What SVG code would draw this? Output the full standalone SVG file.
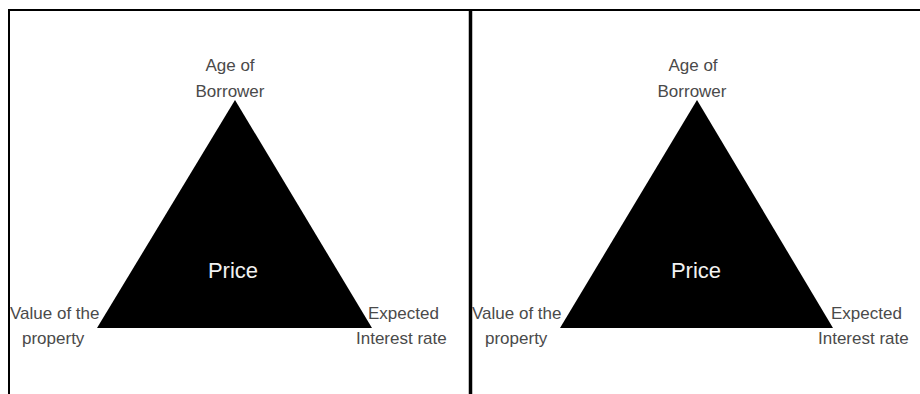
<svg xmlns="http://www.w3.org/2000/svg" width="920" height="394" viewBox="0 0 920 394">
<style>
.frame{stroke:#000;fill:none}
.tri{fill:#000}
.lbl{font-family:"Liberation Sans",Arial,sans-serif;font-size:17px;fill:#4a4a4a}
.mid{text-anchor:middle}
.price{font-family:"Liberation Sans",Arial,sans-serif;font-size:22px;fill:#f2f2f2;text-anchor:middle}
</style>
<rect width="920" height="394" fill="#fff"/>
<g id="frame">
<line class="frame" x1="8" y1="10" x2="920" y2="10" stroke-width="2"/>
<line class="frame" x1="9" y1="9" x2="9" y2="394" stroke-width="2"/>
<line class="frame" x1="470.5" y1="9" x2="470.5" y2="394" stroke-width="3.5"/>
</g>
<g id="left-panel">
<g id="left-triangle"><polygon class="tri" points="235,100 97,328 372,328"/>
<text class="price" x="233" y="278">Price</text></g>
<g id="left-age"><text class="lbl mid" x="230" y="71">Age of</text><text class="lbl mid" x="230" y="97">Borrower</text></g>
<g id="left-value"><text class="lbl" x="10" y="319">Value of the</text><text class="lbl" x="22" y="344">property</text></g>
<g id="left-rate"><text class="lbl" x="368" y="319">Expected</text><text class="lbl" x="356" y="344">Interest rate</text></g>
</g>
<g id="right-panel">
<g id="right-triangle"><polygon class="tri" points="697,100 560,328 833,328"/>
<text class="price" x="696" y="278">Price</text></g>
<g id="right-age"><text class="lbl mid" x="693" y="71">Age of</text><text class="lbl mid" x="692" y="97">Borrower</text></g>
<g id="right-value"><text class="lbl" x="472" y="319">Value of the</text><text class="lbl" x="485" y="344">property</text></g>
<g id="right-rate"><text class="lbl" x="831" y="319">Expected</text><text class="lbl" x="818" y="344">Interest rate</text></g>
</g>
<g id="connectors"></g>
</svg>
